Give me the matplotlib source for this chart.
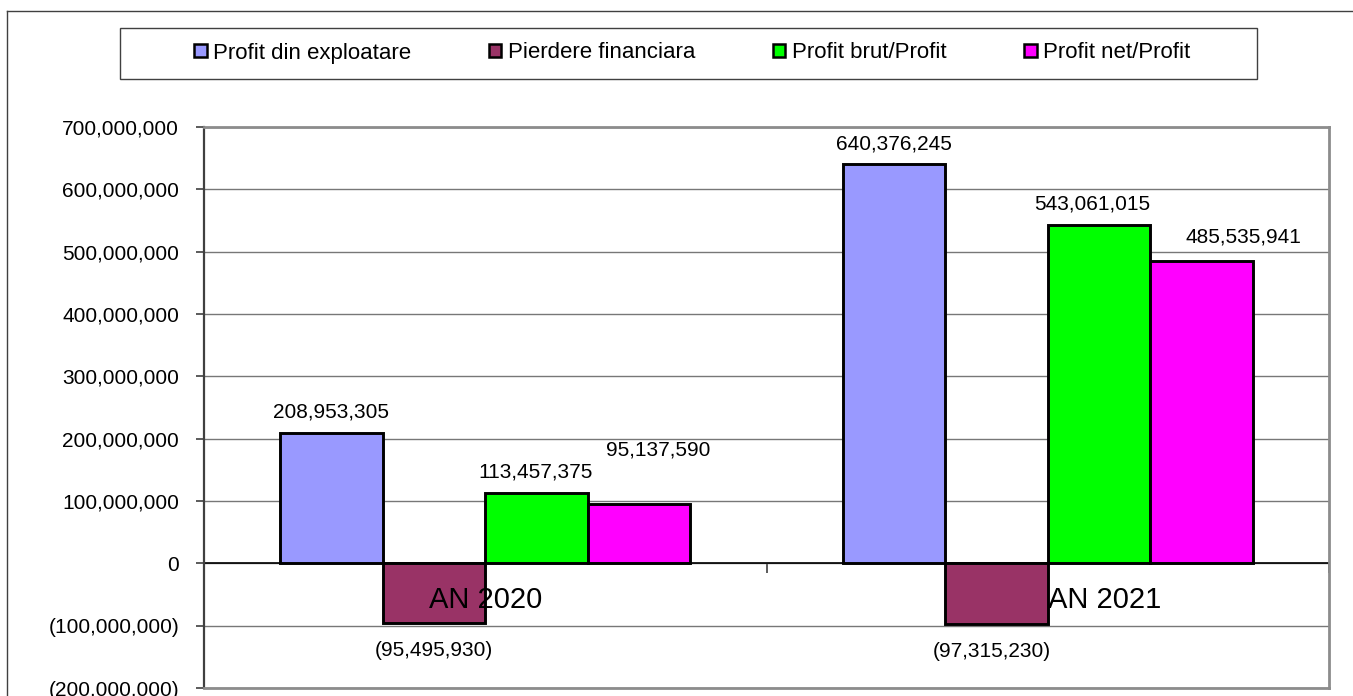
import matplotlib
matplotlib.use('Agg')
import matplotlib.pyplot as plt
import numpy as np
from matplotlib.patches import Rectangle
from matplotlib.lines import Line2D
from matplotlib.ticker import FuncFormatter

# ---- data ----
categories = ['AN 2020', 'AN 2021']
series_names = ['Profit din exploatare', 'Pierdere financiara',
                'Profit brut/Profit', 'Profit net/Profit']
profit_exploatare = [208953305, 640376245]
pierdere_financiara = [-95495930, -97315230]
profit_brut = [113457375, 543061015]
profit_net = [95137590, 485535941]
y_tick_values = [-200e6, -100e6, 0, 100e6, 200e6, 300e6, 400e6, 500e6, 600e6, 700e6]

series_values = [profit_exploatare, pierdere_financiara, profit_brut, profit_net]
colors = ['#9999FF', '#993366', '#00FF00', '#FF00FF']

# label offsets (pixels, baseline relative to bar end) - manual placement as in reference
label_offsets = [
    [(-1, 15.5), (0, 14.5)],
    [(0, -33), (-5, -33)],
    [(-1, 15.5), (-7, 15.5)],
    [(19, 48.5), (42, 18.5)],
]
cat_label_offsets = [(0, -45), (57, -45)]

plt.rcParams['font.family'] = ['Liberation Sans', 'DejaVu Sans']

W, H = 1353, 696
fig = plt.figure(figsize=(W / 100, H / 100), dpi=100)
fig.patch.set_facecolor('white')

top_px, bot_px, left_px, right_px = 127, 688, 204, 1329
ax = fig.add_axes([left_px / W, 1 - bot_px / H, (right_px - left_px) / W, (bot_px - top_px) / H])

ymin, ymax = -200e6, 700e6
ax.set_xlim(-0.5, 1.5)
ax.set_ylim(ymin, ymax)

x = np.arange(len(categories))
bar_w = 102.5 / 562.5
n = len(series_values)
for k, (vals, col) in enumerate(zip(series_values, colors)):
    pos = x + (k - (n - 1) / 2) * bar_w
    ax.bar(pos, vals, width=bar_w, color=col, edgecolor='black', linewidth=2.1, zorder=3)
    for i, v in enumerate(vals):
        txt = f'({abs(v):,.0f})' if v < 0 else f'{v:,.0f}'
        dx, dy = label_offsets[k][i]
        ax.annotate(txt, xy=(pos[i], v), xytext=(dx, dy), textcoords='offset pixels',
                    ha='center', va='baseline', fontsize=15, color='black', zorder=5)

for i, c in enumerate(categories):
    dx, dy = cat_label_offsets[i]
    ax.annotate(c, xy=(x[i], 0), xytext=(dx, dy), textcoords='offset pixels',
                ha='center', va='baseline', fontsize=21, color='black', zorder=6)

# y axis
ax.set_yticks(y_tick_values)
ax.yaxis.set_major_formatter(FuncFormatter(lambda v, p: f'({abs(v):,.0f})' if v < 0 else f'{v:,.0f}'))
ax.tick_params(axis='y', direction='out', length=6, width=1.2, color='#404040',
               labelsize=15, pad=12, labelcolor='black')
ax.set_xticks([])
ax.yaxis.grid(True, color='#777777', linewidth=1.0)
ax.set_axisbelow(True)

for s in ['top', 'right', 'bottom']:
    ax.spines[s].set_color('#8c8c8c')
    ax.spines[s].set_linewidth(2)
ax.spines['left'].set_color('#404040')
ax.spines['left'].set_linewidth(1.6)

# zero axis line with category boundary ticks
ax.axhline(0, color='black', linewidth=1.2, zorder=2)
sec = ax.secondary_xaxis((0 - ymin) / (ymax - ymin))
sec.set_xticks([-0.5, 0.5, 1.5])
sec.set_xticklabels([])
sec.xaxis.set_ticks_position('bottom')
sec.tick_params(axis='x', direction='out', length=7, width=1.2, color='#404040')
for s in sec.spines.values():
    s.set_visible(False)

# legend
handles = [Rectangle((0, 0), 1, 1, facecolor=c, edgecolor='black', linewidth=1.8) for c in colors]
leg = fig.legend(handles, series_names, loc='center', bbox_to_anchor=(692.5 / W, 1 - 53 / H),
                 ncol=4, frameon=False, fontsize=16, handlelength=0.55, handleheight=0.55,
                 handletextpad=0.3, columnspacing=3.5, borderpad=0)
fig.add_artist(Rectangle((120 / W, 1 - 79 / H), (1257 - 120) / W, (79 - 28) / H,
                         transform=fig.transFigure, fill=False, edgecolor='#404040', linewidth=1))

# outer frame (only top and left visible)
fig.add_artist(Line2D([7 / W, 7 / W], [0, 1 - 11 / H], transform=fig.transFigure,
                      color='#404040', linewidth=1))
fig.add_artist(Line2D([7 / W, 1], [1 - 11 / H, 1 - 11 / H], transform=fig.transFigure,
                      color='#404040', linewidth=1))

fig.savefig('out.png', dpi=100)
